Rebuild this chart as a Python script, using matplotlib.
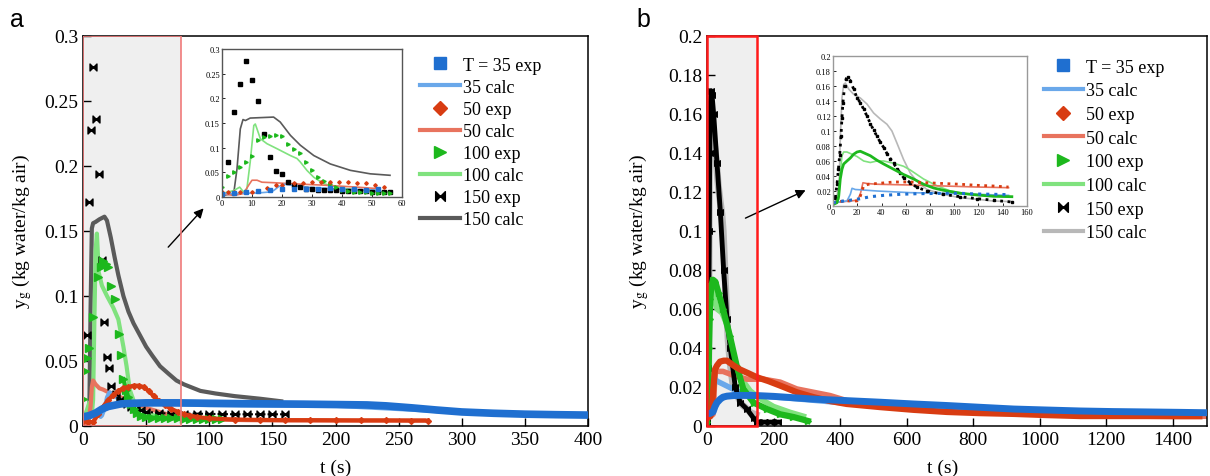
import matplotlib
matplotlib.use("Agg")
import matplotlib.pyplot as plt
from matplotlib.path import Path
from matplotlib.patches import Rectangle
from matplotlib.lines import Line2D

plt.rcParams['font.family'] = ['Liberation Serif', 'DejaVu Serif']
plt.rcParams['mathtext.fontset'] = 'stix'

# ---------------- panel a, main axes ----------------
a_t35e = [0, 5, 10, 15, 20, 25, 30, 40, 50, 75, 100, 125, 150, 175, 200, 225, 240, 260, 280, 300, 325, 350, 375, 400]
a_y35e = [0.007, 0.008, 0.010, 0.013, 0.015, 0.016, 0.017, 0.0175, 0.0178, 0.0178, 0.0175, 0.0172, 0.017, 0.0168,
          0.0165, 0.0162, 0.0155, 0.014, 0.0123, 0.0108, 0.0098, 0.0091, 0.0087, 0.0084]
a_t35c = [0, 5, 10, 12, 14, 15, 17, 19, 21, 25, 30, 40, 60, 100, 200, 300, 400]
a_y35c = [0.006, 0.007, 0.008, 0.009, 0.007, 0.008, 0.013, 0.022, 0.026, 0.023, 0.020, 0.018, 0.017, 0.016, 0.0155,
          0.0105, 0.008]
a_t50e = [0, 4, 8, 12, 16, 20, 24, 28, 32, 36, 40, 44, 48, 52, 56, 60, 65, 70, 75, 80, 85, 90, 100, 120, 140, 160,
          180, 200, 220, 240, 260, 273]
a_y50e = [0.004, 0.003, 0.003, 0.009, 0.015, 0.020, 0.024, 0.027, 0.029, 0.030, 0.031, 0.031, 0.030, 0.027, 0.023,
          0.019, 0.016, 0.013, 0.011, 0.009, 0.008, 0.007, 0.0058, 0.005, 0.0047, 0.0045, 0.0045, 0.0044, 0.0043,
          0.0043, 0.0042, 0.0042]
a_t50c = [0, 2, 4, 6, 7, 8, 10, 13, 16, 20, 25, 30, 40, 50, 60, 70, 80, 100, 130, 160, 200, 270]
a_y50c = [0.003, 0.001, 0.001, 0.015, 0.030, 0.035, 0.032, 0.029, 0.028, 0.026, 0.024, 0.022, 0.018, 0.014, 0.011,
          0.008, 0.006, 0.005, 0.0045, 0.0043, 0.0042, 0.0042]
a_t100e = [0, 1.5, 3, 5, 8, 12, 14, 16, 18, 20, 22, 25, 28.5, 30, 32, 34, 36, 38, 40, 43, 46, 50, 55, 60, 65, 70, 75,
           80, 85, 90, 95, 100, 105, 110]
a_y100e = [0.021, 0.042, 0.052, 0.060, 0.084, 0.115, 0.122, 0.127, 0.125, 0.122, 0.108, 0.098, 0.071, 0.055, 0.036,
           0.028, 0.022, 0.017, 0.013, 0.010, 0.008, 0.007, 0.0065, 0.006, 0.006, 0.006, 0.0058, 0.0057, 0.0056,
           0.0055, 0.0055, 0.0054, 0.0054, 0.0054]
a_t100c = [0, 3, 5, 7, 8, 9, 10, 11, 12.5, 15, 19, 24, 28, 32, 34.5, 37, 41, 50, 60, 80, 110]
a_y100c = [0.005, 0.012, 0.018, 0.009, 0.02, 0.08, 0.135, 0.148, 0.118, 0.108, 0.100, 0.091, 0.082, 0.061, 0.046,
           0.028, 0.017, 0.010, 0.007, 0.005, 0.005]
a_t150e = [3, 5, 6.5, 8, 10.5, 12.5, 15, 16.5, 19, 20.5, 22.5, 26, 29, 32, 35, 38, 42, 46, 50, 60, 70, 80, 90, 100,
           110, 120, 130, 140, 150, 160]
a_y150e = [0.070, 0.172, 0.228, 0.276, 0.236, 0.194, 0.128, 0.080, 0.053, 0.045, 0.031, 0.025, 0.020, 0.019, 0.017,
           0.015, 0.013, 0.012, 0.011, 0.010, 0.0095, 0.0095, 0.0095, 0.0093, 0.0092, 0.009, 0.009, 0.009, 0.009, 0.009]
a_t150c = [4, 5, 6, 7, 8, 10, 13, 17, 19, 22, 25, 28, 32, 36, 40, 45, 50, 55, 61, 68, 74, 80, 93, 105, 120, 140, 157]
a_y150c = [0, 0.01, 0.09, 0.152, 0.156, 0.157, 0.159, 0.161, 0.158, 0.145, 0.13, 0.116, 0.10, 0.088, 0.079, 0.07,
           0.061, 0.054, 0.046, 0.04, 0.035, 0.032, 0.027, 0.025, 0.023, 0.021, 0.019]

# ---------------- panel a, inset ----------------
ia_t35e = [0, 4, 8, 12, 16, 20, 24, 28, 32, 36, 40, 44, 48, 52]
ia_y35e = [0.007, 0.008, 0.01, 0.013, 0.014, 0.016, 0.017, 0.016, 0.016, 0.018, 0.016, 0.017, 0.015, 0.017]
ia_t50e = [0, 2, 4, 6, 8, 10, 12, 15, 18, 20, 24, 27, 30, 33, 36, 39, 42, 45, 48, 51, 54]
ia_y50e = [0.010, 0.010, 0.010, 0.010, 0.010, 0.011, 0.012, 0.019, 0.024, 0.025, 0.028, 0.028, 0.030, 0.030, 0.031,
           0.030, 0.030, 0.029, 0.028, 0.025, 0.021]
ia_t100e = [0, 2, 4, 6, 8, 10, 12, 14, 16, 18, 20, 22, 24, 26, 28, 30, 32, 34, 36, 38, 40, 42, 44, 46, 48, 50, 52, 54, 56]
ia_y100e = [0.02, 0.042, 0.05, 0.061, 0.071, 0.084, 0.115, 0.121, 0.124, 0.126, 0.123, 0.108, 0.098, 0.089, 0.071,
            0.055, 0.040, 0.033, 0.026, 0.020, 0.015, 0.012, 0.011, 0.010, 0.010, 0.009, 0.009, 0.009, 0.009]
ia_t150e = [2, 4, 6, 8, 10, 12, 14, 16, 18, 20, 22, 24, 26, 28, 30, 32, 34, 36, 38, 40, 42, 44, 46, 48, 50, 52, 54, 56]
ia_y150e = [0.071, 0.173, 0.229, 0.276, 0.237, 0.194, 0.127, 0.081, 0.052, 0.046, 0.031, 0.025, 0.020, 0.017, 0.016,
            0.015, 0.015, 0.014, 0.014, 0.013, 0.013, 0.012, 0.012, 0.012, 0.011, 0.011, 0.011, 0.011]
ia_t35c = [0, 11.7, 15.6, 17.2, 18.9, 20.6, 22.8, 28.3, 39.4, 52]
ia_y35c = [0.007, 0.008, 0.010, 0.013, 0.021, 0.026, 0.024, 0.020, 0.016, 0.014]
ia_t50c = [0, 3.9, 7.2, 8.9, 10, 11.7, 13.3, 17.2, 22.8, 33.9, 45, 52]
ia_y50c = [0.007, 0.003, 0.007, 0.024, 0.034, 0.034, 0.030, 0.029, 0.027, 0.024, 0.020, 0.017]
ia_t100c = [0, 3.9, 5.9, 7.2, 8.3, 9.4, 10.6, 11.1, 12.8, 15, 18.3, 22.8, 25, 26.1, 28.3, 30.6, 33.9, 39.4, 45, 51.7, 56]
ia_y100c = [0.007, 0.013, 0.020, 0.010, 0.017, 0.071, 0.145, 0.148, 0.118, 0.108, 0.098, 0.084, 0.078, 0.071, 0.054,
            0.040, 0.027, 0.018, 0.015, 0.011, 0.010]
ia_t150c = [0, 3.9, 5, 6.1, 7, 7.8, 9.4, 17.2, 19.4, 22.8, 26.1, 30.6, 36.1, 42.8, 49.4, 56]
ia_y150c = [0.003, 0.007, 0.057, 0.138, 0.157, 0.155, 0.160, 0.162, 0.152, 0.125, 0.105, 0.084, 0.067, 0.054, 0.047, 0.044]

# ---------------- panel b, main axes ----------------
b_t35e = [0, 10, 18, 24, 30, 40, 48, 60, 79, 100, 150, 200, 320, 420, 520, 620, 721, 820, 922, 1020, 1122, 1220, 1323,
          1420, 1500]
b_y35e = [0.0062, 0.0065, 0.0072, 0.010, 0.012, 0.0138, 0.0148, 0.0153, 0.0156, 0.0157, 0.0156, 0.0152, 0.0138, 0.013,
          0.0122, 0.0113, 0.0105, 0.0096, 0.0087, 0.0082, 0.0077, 0.0074, 0.0072, 0.007, 0.0068]
b_t35c = [0, 10, 15, 18, 20, 30, 48, 89, 150, 300, 500, 700, 900, 1100, 1300, 1500]
b_y35c = [0.006, 0.007, 0.012, 0.024, 0.025, 0.023, 0.0215, 0.018, 0.0156, 0.0135, 0.0105, 0.0092, 0.0082, 0.0075,
          0.007, 0.0066]
b_t50e = [0, 10, 15, 18, 24, 30, 39, 50, 60, 80, 99, 125, 150, 185, 220, 270, 320, 370, 420, 520, 620, 721, 820, 922,
          1020, 1122, 1220, 1323, 1420, 1480]
b_y50e = [0.004, 0.005, 0.008, 0.017, 0.029, 0.031, 0.033, 0.0335, 0.0335, 0.031, 0.029, 0.027, 0.025, 0.023, 0.0207,
          0.0173, 0.0148, 0.0128, 0.0113, 0.0097, 0.0083, 0.0072, 0.0066, 0.0062, 0.0056, 0.0051, 0.0051, 0.0051,
          0.005, 0.005]
b_t50c = [0, 10, 18, 20, 22, 25, 35, 48, 79, 120, 170, 220, 270, 320, 370, 420, 500, 600, 700, 850, 1000, 1200, 1500]
b_y50c = [0.004, 0.005, 0.006, 0.008, 0.02, 0.029, 0.028, 0.028, 0.026, 0.024, 0.024, 0.0225, 0.019, 0.0173, 0.0156,
          0.013, 0.0103, 0.0092, 0.0083, 0.0072, 0.0064, 0.0057, 0.005]
b_t100e = [0, 2, 4, 6, 8, 10, 13, 18, 25, 35, 48, 69, 89, 109, 140, 180, 220, 260, 303]
b_y100e = [0.002, 0.005, 0.02, 0.04, 0.055, 0.065, 0.072, 0.075, 0.074, 0.068, 0.06, 0.046, 0.031, 0.019, 0.012,
           0.0087, 0.006, 0.0046, 0.0026]
b_t100c = [0, 3, 5, 7, 10, 15, 20, 30, 45, 60, 70, 80, 100, 130, 160, 200, 250, 290]
b_y100c = [0.002, 0.006, 0.03, 0.062, 0.072, 0.07, 0.066, 0.06, 0.058, 0.052, 0.045, 0.036, 0.025, 0.018, 0.014,
           0.010, 0.007, 0.005]
b_t150e = [0, 2, 3, 5, 7, 8, 10, 12, 15, 20, 30, 40, 50, 60, 70, 85, 100, 120, 140, 150, 170, 190, 213]
b_y150e = [0.002, 0.01, 0.03, 0.06, 0.10, 0.14, 0.165, 0.172, 0.17, 0.16, 0.135, 0.11, 0.08, 0.055, 0.04, 0.02,
           0.012, 0.0087, 0.004, 0.002, 0.002, 0.002, 0.002]
b_t150c = [0, 2, 5, 6, 7.4, 8.8, 10.2, 12.9, 17, 22.5, 28, 33.5, 39, 44.5, 48.6, 52.7, 58.2, 63.7, 69.2, 77.5, 91,
           105, 118.7, 132, 147.5]
b_y150c = [0, 0.004, 0.027, 0.089, 0.144, 0.162, 0.164, 0.156, 0.149, 0.144, 0.136, 0.124, 0.116, 0.109, 0.10,
           0.084, 0.062, 0.044, 0.033, 0.022, 0.0155, 0.011, 0.009, 0.0067, 0.0058]

# ---------------- panel b, inset ----------------
ib_t35e = [0, 8.8, 19.8, 30.8, 41.8, 55.5, 69.2, 91, 105, 118.7, 132, 144.8]
ib_y35e = [0.0044, 0.0067, 0.0089, 0.0124, 0.0142, 0.0156, 0.0164, 0.0169, 0.0169, 0.016, 0.0156, 0.0151]
ib_t35c = [0, 11.5, 14.3, 15.7, 18.4, 25.3, 36.3, 63.7, 91, 118.7, 144.8]
ib_y35c = [0.0044, 0.0067, 0.0156, 0.0236, 0.022, 0.0213, 0.020, 0.0178, 0.0169, 0.0156, 0.0142]
ib_t50e = [0, 8.8, 19.8, 22.5, 25.3, 29.4, 36.3, 50, 63.7, 77.5, 91, 105, 118.7, 132, 144.8]
ib_y50e = [0.0044, 0.0067, 0.0067, 0.013, 0.027, 0.029, 0.030, 0.032, 0.032, 0.031, 0.030, 0.029, 0.0276, 0.0267, 0.0253]
ib_t50c = [0, 19.8, 22.5, 24.7, 28, 36.3, 63.7, 91, 118.7, 144.8]
ib_y50c = [0.0044, 0.0076, 0.0156, 0.031, 0.030, 0.029, 0.028, 0.0267, 0.0253, 0.0244]
ib_t100e = [0, 3.3, 4.7, 6, 7.4, 8.8, 11.5, 14.3, 17, 19.8, 22.5, 25.3, 30.8, 36.3, 41.8, 50, 58.2, 66.5, 74.7, 83, 91,
            105, 118.7, 132, 147.5]
ib_y100e = [0.002, 0.0044, 0.013, 0.036, 0.049, 0.056, 0.06, 0.064, 0.069, 0.072, 0.073, 0.071, 0.067, 0.061, 0.056,
            0.049, 0.042, 0.036, 0.029, 0.024, 0.021, 0.017, 0.0147, 0.013, 0.0124]
ib_t100c = [0, 4.7, 6, 7.4, 8.8, 11.5, 14.3, 19.8, 25.3, 30.8, 36.3, 41.8, 50, 58.2, 63.7, 74.7, 85.7, 96.7, 113, 132, 147.5]
ib_y100c = [0.002, 0.009, 0.044, 0.067, 0.072, 0.072, 0.07, 0.066, 0.06, 0.058, 0.06, 0.06, 0.057, 0.053, 0.048,
            0.036, 0.027, 0.02, 0.0156, 0.013, 0.0124]
ib_t150e = [1.9, 3.3, 4.5, 5.5, 6.6, 7.4, 8.2, 9.6, 11, 12.1, 14.3, 17, 19.8, 22.5, 25.3, 28, 30.8, 33.5, 36.3, 39,
            41.8, 44.5, 47.3, 50, 52.7, 55.5, 58.2, 63.7, 69.2, 77.5, 91, 105, 118.7, 132.4, 147.5]
ib_y150e = [0.011, 0.029, 0.05, 0.068, 0.093, 0.118, 0.138, 0.16, 0.17, 0.172, 0.167, 0.156, 0.144, 0.138, 0.129,
            0.12, 0.11, 0.101, 0.093, 0.085, 0.078, 0.07, 0.063, 0.057, 0.05, 0.044, 0.038, 0.031, 0.025, 0.02,
            0.0155, 0.0124, 0.0098, 0.0076, 0.0053]

a_yticks = [0, 0.05, 0.1, 0.15, 0.2, 0.25, 0.3]
a_ytick_labels = ["0", "0.05", "0.1", "0.15", "0.2", "0.25", "0.3"]
a_xticks = [0, 50, 100, 150, 200, 250, 300, 350, 400]
b_yticks = [0, 0.02, 0.04, 0.06, 0.08, 0.1, 0.12, 0.14, 0.16, 0.18, 0.2]
b_ytick_labels = ["0", "0.02", "0.04", "0.06", "0.08", "0.1", "0.12", "0.14", "0.16", "0.18", "0.2"]
b_xticks = [0, 200, 400, 600, 800, 1000, 1200, 1400]
legend_labels = ["T = 35 exp", "35 calc", "50 exp", "50 calc", "100 exp", "100 calc", "150 exp", "150 calc"]

SERIF = ['Liberation Serif', 'DejaVu Serif']

c35e, c35c = "#1f6fd0", "#6aa8ea"
c50e, c50c = "#d83c12", "#e8735e"
c100e, c100c = "#1db81d", "#80e27e"
c150e = "black"
c150c_a, c150c_b = "#5a5a5a", "#b8b8b8"

bowtie = Path([(-1, 1), (-1, -1), (0, 0), (-1, 1), (1, 1), (1, -1), (0, 0), (1, 1)],
              [Path.MOVETO, Path.LINETO, Path.LINETO, Path.CLOSEPOLY,
               Path.MOVETO, Path.LINETO, Path.LINETO, Path.CLOSEPOLY])

fig = plt.figure(figsize=(12.1, 4.77), dpi=100)
ax_a = fig.add_axes([83 / 1210, 50 / 477, 505 / 1210, 390 / 477])
ax_b = fig.add_axes([707 / 1210, 50 / 477, 500 / 1210, 390 / 477])


def serif_ticks(ax):
    for lbl in ax.get_xticklabels() + ax.get_yticklabels():
        lbl.set_family(SERIF)


def style_main(ax, xticks, yticks, ylabels, xlab_pos):
    ax.set_xticks(xticks)
    ax.set_xticklabels([str(v) for v in xticks])
    ax.set_yticks(yticks)
    ax.set_yticklabels(ylabels)
    ax.tick_params(direction='in', length=6, width=1, labelsize=14, top=False, right=False)
    serif_ticks(ax)
    for s in ax.spines.values():
        s.set_linewidth(1.1)
    ax.set_xlabel("t (s)", fontsize=14)
    ax.set_ylabel(r"y$_\mathrm{g}$ (kg water/kg air)", fontsize=14)
    ax.xaxis.set_label_coords(xlab_pos, -0.085)


# ---------- panel a ----------
ax = ax_a
ax.add_patch(Rectangle((0, 0), 78, 0.3, facecolor="#efefef", edgecolor="none", zorder=0))
ax.add_patch(Rectangle((0, 0), 78, 0.3, facecolor="none", edgecolor="#f07a7a", lw=1.2, zorder=6))
ax.plot(a_t150c, a_y150c, color=c150c_a, lw=3, zorder=2)
ax.plot(a_t100c, a_y100c, color=c100c, lw=3, zorder=2)
ax.plot(a_t50c, a_y50c, color=c50c, lw=3, zorder=2)
ax.plot(a_t35c, a_y35c, color=c35c, lw=3, zorder=2)
ax.plot(a_t150e[11:], a_y150e[11:], color=c150e, lw=1.5, ls=(0, (1, 1)), zorder=3)
ax.plot(a_t150e, a_y150e, ls='none', marker=bowtie, ms=5, color=c150e, zorder=3)
ax.plot(a_t100e[14:], a_y100e[14:], color=c100e, lw=3, zorder=3)
ax.plot(a_t100e, a_y100e, ls='none', marker='>', ms=6, color=c100e, zorder=3)
ax.plot(a_t50e, a_y50e, color=c50e, lw=3, marker='D', ms=3, zorder=3)
ax.plot(a_t35e, a_y35e, color=c35e, lw=5.5, solid_capstyle='butt', zorder=4)
ax.set_xlim(0, 400)
ax.set_ylim(0, 0.3)
style_main(ax, a_xticks, a_yticks, a_ytick_labels, 0.5)
ax.yaxis.set_label_coords(-0.098, 0.5)
ax.annotate("", xy=(97, 0.169), xytext=(66, 0.136),
            arrowprops=dict(arrowstyle='-|>', color='black', lw=1, mutation_scale=14))

# ---------- panel b ----------
ax = ax_b
ax.add_patch(Rectangle((0, 0), 150, 0.2, facecolor="#efefef", edgecolor="none", zorder=0))
ax.add_patch(Rectangle((0, 0), 150, 0.2, facecolor="none", edgecolor="#ff1a1a", lw=1.8, zorder=6, clip_on=False))
ax.plot(b_t150c, b_y150c, color=c150c_b, lw=5, zorder=2)
ax.plot(b_t100c, b_y100c, color=c100c, lw=4, zorder=2)
ax.plot(b_t50c, b_y50c, color=c50c, lw=4, zorder=2)
ax.plot(b_t35c, b_y35c, color=c35c, lw=4, zorder=2)
ax.plot(b_t150e, b_y150e, color=c150e, lw=3.5, marker=bowtie, ms=4, zorder=3)
ax.plot(b_t100e, b_y100e, color=c100e, lw=4.5, marker='>', ms=4, zorder=3)
ax.plot(b_t50e, b_y50e, color=c50e, lw=4.5, zorder=3)
ax.plot(b_t35e, b_y35e, color=c35e, lw=5, zorder=4)
ax.set_xlim(0, 1503)
ax.set_ylim(0, 0.2)
style_main(ax, b_xticks, b_yticks, b_ytick_labels, 0.472)
ax.yaxis.set_label_coords(-0.112, 0.5)
ax.annotate("", xy=(304, 0.1215), xytext=(108, 0.106),
            arrowprops=dict(arrowstyle='-|>', color='black', lw=1, mutation_scale=14))

# ---------- insets ----------
ia = fig.add_axes([222 / 1210, 1 - 198 / 477, 180 / 1210, 148 / 477])
ia.plot(ia_t150c, ia_y150c, color=c150c_a, lw=1.2)
ia.plot(ia_t100c, ia_y100c, color=c100c, lw=1.2)
ia.plot(ia_t50c, ia_y50c, color=c50c, lw=1.2)
ia.plot(ia_t35c, ia_y35c, color=c35c, lw=1.2)
ia.plot(ia_t150e, ia_y150e, ls='none', marker='s', ms=2.2, color=c150e)
ia.plot(ia_t100e, ia_y100e, ls='none', marker='>', ms=2.5, color=c100e)
ia.plot(ia_t50e, ia_y50e, ls='none', marker='D', ms=1.8, color=c50e)
ia.plot(ia_t35e, ia_y35e, ls='none', marker='s', ms=2.2, color=c35e)
ia.set_xlim(0, 60)
ia.set_ylim(0, 0.3)
ia.set_xticks([0, 10, 20, 30, 40, 50, 60])
ia.set_xticklabels(["0", "10", "20", "30", "40", "50", "60"])
ia.set_yticks(a_yticks)
ia.set_yticklabels(a_ytick_labels)
ia.tick_params(direction='in', length=2, width=0.6, labelsize=6, pad=1.5)
serif_ticks(ia)
for s in ia.spines.values():
    s.set_color("#555555")
    s.set_linewidth(1.0)

ib = fig.add_axes([833 / 1210, 1 - 207 / 477, 194 / 1210, 150 / 477])
ib.plot(b_t150c, b_y150c, color=c150c_b, lw=1.2)
ib.plot(ib_t100c, ib_y100c, color=c100c, lw=1.2)
ib.plot(ib_t50c, ib_y50c, color=c50c, lw=1.2)
ib.plot(ib_t35c, ib_y35c, color=c35c, lw=1.2)
ib.plot(ib_t150e, ib_y150e, color=c150e, lw=2, ls=':', marker='s', ms=1.5)
ib.plot(ib_t100e, ib_y100e, color=c100e, lw=2)
ib.plot(ib_t50e, ib_y50e, color=c50e, lw=2, ls=':')
ib.plot(ib_t35e, ib_y35e, color=c35e, lw=2.2, ls=':')
ib.set_xlim(0, 160)
ib.set_ylim(0, 0.2)
ib_xt = [0, 20, 40, 60, 80, 100, 120, 140, 160]
ib.set_xticks(ib_xt)
ib.set_xticklabels([str(v) for v in ib_xt])
ib.set_yticks(b_yticks)
ib.set_yticklabels(b_ytick_labels)
ib.tick_params(direction='in', length=2, width=0.6, labelsize=6, pad=1.5)
serif_ticks(ib)
for s in ib.spines.values():
    s.set_color("#999999")
    s.set_linewidth(1.0)


# ---------- legends ----------
def legend_handles(c150c):
    return [Line2D([], [], ls='none', marker='s', ms=9, color=c35e),
            Line2D([], [], color=c35c, lw=3),
            Line2D([], [], ls='none', marker='D', ms=7, color=c50e),
            Line2D([], [], color=c50c, lw=3),
            Line2D([], [], ls='none', marker='>', ms=9, color=c100e),
            Line2D([], [], color=c100c, lw=3),
            Line2D([], [], ls='none', marker=bowtie, ms=7, color=c150e),
            Line2D([], [], color=c150c, lw=3)]


ax_a.legend(legend_handles(c150c_a), legend_labels, loc='upper left', bbox_to_anchor=(0.65, 0.97),
            frameon=False, fontsize=13, handlelength=2.2, labelspacing=0.28, handletextpad=0.15, borderpad=0)
ax_b.legend(legend_handles(c150c_b), legend_labels, loc='upper left', bbox_to_anchor=(0.655, 0.965),
            frameon=False, fontsize=13, handlelength=2.2, labelspacing=0.37, handletextpad=0.15, borderpad=0)

fig.text(10 / 1210, 1 - 20 / 477, "a", family="Liberation Sans", fontsize=18, va='center', ha='left')
fig.text(636 / 1210, 1 - 20 / 477, "b", family="Liberation Sans", fontsize=18, va='center', ha='left')

fig.savefig("out.png", dpi=100)
